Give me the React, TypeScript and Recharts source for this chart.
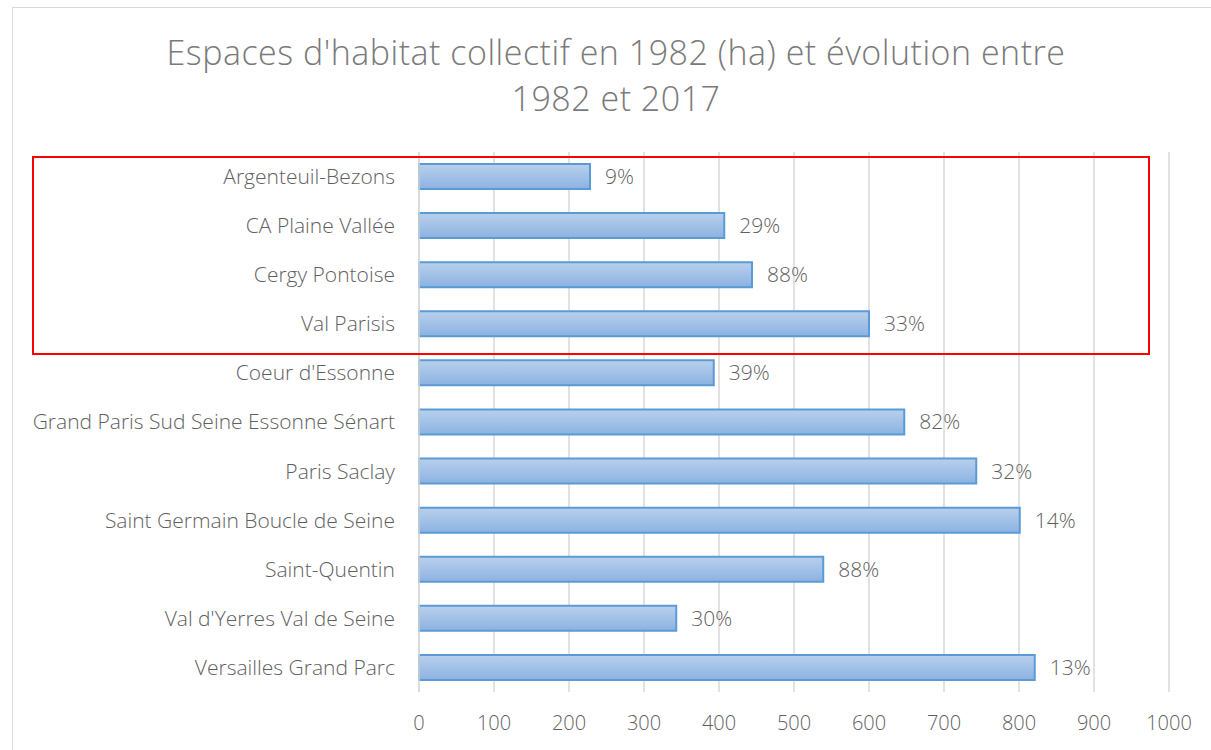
import React from "react";
import { BarChart, Bar, XAxis, YAxis, CartesianGrid, LabelList } from "recharts";

// Collective housing areas in 1982 (ha) and change 1982-2017
const territories = [
  "Argenteuil-Bezons",
  "CA Plaine Vallée",
  "Cergy Pontoise",
  "Val Parisis",
  "Coeur d'Essonne",
  "Grand Paris Sud Seine Essonne Sénart",
  "Paris Saclay",
  "Saint Germain Boucle de Seine",
  "Saint-Quentin",
  "Val d'Yerres Val de Seine",
  "Versailles Grand Parc",
];
const hectares1982 = [228, 407, 444, 600, 393, 647, 743, 801, 539, 343, 821];
const evolutionPct = [9, 29, 88, 33, 39, 82, 32, 14, 88, 30, 13];
const xTicks = [0, 100, 200, 300, 400, 500, 600, 700, 800, 900, 1000];

const data = territories.map((name, i) => ({
  name,
  ha: hectares1982[i],
  pct: evolutionPct[i],
}));

const FONT = "'Open Sans', Lato, sans-serif";
const TEXT = "#5f5f5f";

export default function App() {
  return (
    <div
      style={{
        position: "absolute",
        left: 0,
        top: 0,
        width: 1211,
        height: 750,
        overflow: "hidden",
        background: "#fff",
        fontFamily: FONT,
      }}
    >
      {/* chart frame */}
      <div
        style={{
          position: "absolute",
          left: 12,
          top: 7,
          width: 1230,
          height: 780,
          border: "1px solid #d9d9d9",
        }}
      />
      <div
        style={{
          position: "absolute",
          left: 0,
          top: 29,
          width: 1232,
          textAlign: "center",
          fontSize: 34,
          fontWeight: 300,
          letterSpacing: 0.5,
          lineHeight: "46px",
          color: "#7a7a7a",
        }}
      >
        Espaces d'habitat collectif en 1982 (ha) et évolution entre
        <br />
        1982 et 2017
      </div>
      <BarChart
        width={1211}
        height={750}
        data={data}
        layout="vertical"
        margin={{ top: 152, right: 42, bottom: 28, left: 0 }}
        style={{ position: "absolute", left: 0, top: 0 }}
      >
        <defs>
          <linearGradient id="barFill" x1="0" y1="0" x2="0" y2="1">
            <stop offset="0%" stopColor="#b9d0ec" />
            <stop offset="100%" stopColor="#8cb2e2" />
          </linearGradient>
        </defs>
        <CartesianGrid horizontal={false} stroke="#d9d9d9" strokeWidth={1.5} />
        <XAxis
          type="number"
          domain={[0, 1000]}
          ticks={xTicks}
          height={30}
          axisLine={false}
          tickLine={false}
          tickSize={0}
          tickMargin={24}
          tick={{ fill: TEXT, fontSize: 20, fontWeight: 300, fontFamily: FONT }}
        />
        <YAxis
          type="category"
          dataKey="name"
          width={419}
          axisLine={{ stroke: "#d9d9d9", strokeWidth: 1.5 }}
          tickLine={false}
          tickSize={0}
          tickMargin={24}
          tick={{ fill: TEXT, fontSize: 21, fontWeight: 300, fontFamily: FONT }}
        />
        <Bar
          dataKey="ha"
          fill="url(#barFill)"
          stroke="#5b9bd5"
          strokeWidth={2}
          barSize={25}
          isAnimationActive={false}
        >
          <LabelList
            dataKey="pct"
            position="right"
            offset={15}
            formatter={(v: unknown) => `${v}%`}
            style={{ fill: TEXT, fontSize: 21, fontWeight: 300, fontFamily: FONT }}
          />
        </Bar>
      </BarChart>
      {/* highlight box around the Val-d'Oise territories */}
      <div
        style={{
          position: "absolute",
          left: 32,
          top: 156,
          width: 1114,
          height: 195,
          border: "2px solid #ff0000",
          pointerEvents: "none",
        }}
      />
    </div>
  );
}
